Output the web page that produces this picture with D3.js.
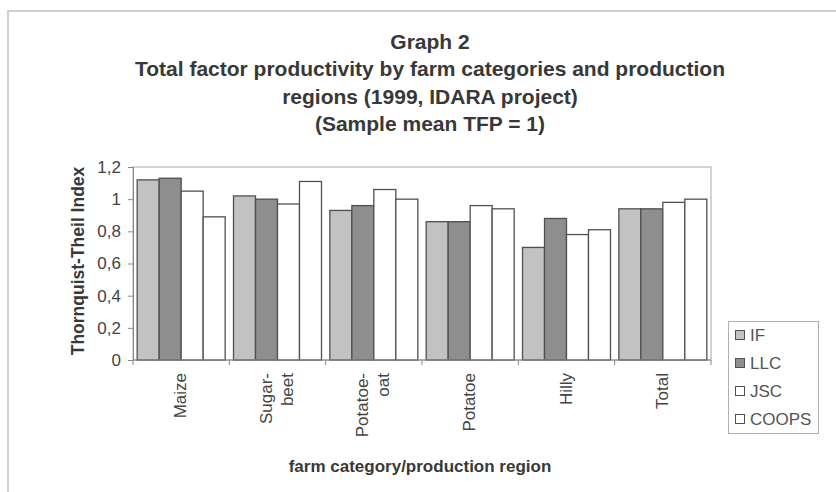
<!DOCTYPE html>
<html><head><meta charset="utf-8">
<script src="https://cdn.jsdelivr.net/npm/d3@7/dist/d3.min.js"></script>
<style>body{margin:0;background:#fff}svg{display:block}text{font-family:Arial,"Liberation Sans",sans-serif}</style>
</head><body>
<script>
const categories = [["Maize"],["Sugar-","beet"],["Potatoe-","oat"],["Potatoe"],["Hilly"],["Total"]];
const seriesNames = ["IF","LLC","JSC","COOPS"];
const IF    = [1.12,1.02,0.93,0.86,0.70,0.94];
const LLC   = [1.13,1.00,0.96,0.86,0.88,0.94];
const JSC   = [1.05,0.97,1.06,0.96,0.78,0.98];
const COOPS = [0.89,1.11,1.00,0.94,0.81,1.00];
const yTicks = [0,0.2,0.4,0.6,0.8,1,1.2];
const titleLines = ["Graph 2","Total factor productivity by farm categories and production","regions (1999, IDARA project)","(Sample mean TFP = 1)"];
const series = [IF,LLC,JSC,COOPS];
const colors = ["#c2c2c2","#8e8e8e","#ffffff","#ffffff"];

const W=836,H=492;
const svg=d3.select("body").append("svg").attr("width",W).attr("height",H);
svg.append("rect").attr("x",8).attr("y",11).attr("width",840).attr("height",490).attr("fill","none").attr("stroke","#d0d0d0").attr("stroke-width",2);

const L=133,R=711,T=167,B=360;
const x=d3.scaleBand().domain(d3.range(categories.length)).range([L,R]).paddingInner(0).paddingOuter(0);
const xi=d3.scaleBand().domain(d3.range(series.length)).range([0,x.bandwidth()]).paddingOuter(0.19).paddingInner(0);
const y=d3.scaleLinear().domain([0,1.2]).range([B,T]);

// title
svg.append("g").selectAll("text").data(titleLines).join("text")
  .attr("x",430).attr("y",(d,i)=>49+i*27.3).attr("text-anchor","middle")
  .attr("font-size",21).attr("font-weight","bold").attr("fill","#383838").text(d=>d);

// plot frame
svg.append("rect").attr("x",L).attr("y",T).attr("width",R-L).attr("height",B-T).attr("fill","none").attr("stroke","#a8a8a8").attr("stroke-width",1);

// bars
const g=svg.append("g");
series.forEach((s,si)=>{
  g.selectAll(null).data(s).join("rect")
   .attr("x",(d,i)=>x(i)+xi(si)).attr("y",d=>y(d))
   .attr("width",xi.bandwidth()).attr("height",d=>B-y(d))
   .attr("fill",colors[si]).attr("stroke","#505050").attr("stroke-width",1.3);
});

// y axis
const ya=svg.append("g").attr("transform",`translate(${L},0)`).call(d3.axisLeft(y).tickValues(yTicks).tickSize(5).tickPadding(7).tickFormat(d=>String(d).replace(".",",")));
ya.select(".domain").attr("stroke","#888");
ya.selectAll(".tick line").attr("stroke","#888");
ya.selectAll("text").attr("font-size",17).attr("fill","#444").attr("font-family","Arial, Liberation Sans, sans-serif");

// x axis
const xa=svg.append("g").attr("transform",`translate(0,${B})`);
xa.append("line").attr("x1",L).attr("x2",R).attr("stroke","#888");
xa.selectAll(null).data(d3.range(categories.length+1)).join("line")
  .attr("x1",i=>L+i*x.step()).attr("x2",i=>L+i*x.step()).attr("y1",0).attr("y2",5).attr("stroke","#888");
categories.forEach((lines,i)=>{
  const cx=x(i)+x.bandwidth()/2;
  const n=lines.length;
  lines.forEach((ln,k)=>{
    const off=(k-(n-1)/2)*21;
    xa.append("text").attr("transform",`translate(${cx+off+5},13) rotate(-90)`)
      .attr("text-anchor","end").attr("font-size",17).attr("fill","#444").text(ln);
  });
});

// axis titles
svg.append("text").attr("transform","translate(84,261) rotate(-90)").attr("text-anchor","middle")
  .attr("font-size",17.5).attr("font-weight","bold").attr("fill","#383838").text("Thornquist-Theil Index");
svg.append("text").attr("x",420).attr("y",472).attr("text-anchor","middle")
  .attr("font-size",17).attr("font-weight","bold").attr("fill","#383838").text("farm category/production region");

// legend
const lg=svg.append("g");
lg.append("rect").attr("x",728.5).attr("y",321.5).attr("width",90).attr("height",112).attr("fill","#fff").attr("stroke","#b0b0b0");
seriesNames.forEach((nm,i)=>{
  const cy=335+i*28;
  lg.append("rect").attr("x",735.5).attr("y",cy-4.5).attr("width",9).attr("height",9).attr("fill",colors[i]).attr("stroke","#505050");
  lg.append("text").attr("x",750).attr("y",cy+6).attr("font-size",17).attr("fill","#555").text(nm);
});
</script>
</body></html>
